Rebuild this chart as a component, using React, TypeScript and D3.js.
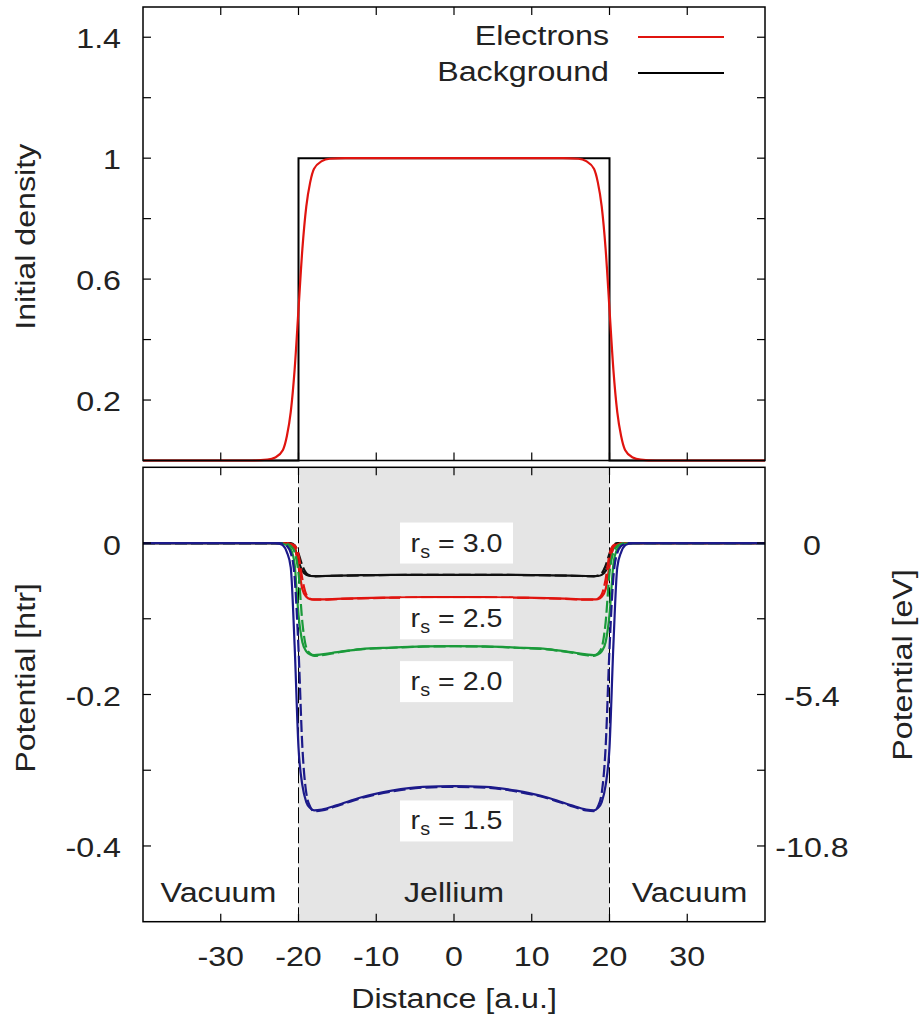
import React from "react";
import * as d3 from "d3";

// ---------- data ----------
// Top panel: initial density
const densX = [-40, -26, -24, -23, -22, -21.5, -21, -20.5, -20, -19.5, -19, -18.5, -18, -17, -16, -14, 0, 14, 16, 17, 18, 18.5, 19, 19.5, 20, 20.5, 21, 21.5, 22, 23, 24, 26, 40];
const electrons = [0, 0, 0.003, 0.01, 0.035, 0.08, 0.16, 0.3, 0.5, 0.7, 0.84, 0.92, 0.965, 0.99, 0.998, 1, 1, 1, 0.998, 0.99, 0.965, 0.92, 0.84, 0.7, 0.5, 0.3, 0.16, 0.08, 0.035, 0.01, 0.003, 0, 0];
const bgX = [-40, -20, -20, 20, 20, 40];
const background = [0, 0, 1, 1, 0, 0];

// Bottom panel: potentials (htr) on a common grid
const potX = [-40, -24, -23, -22.5, -22, -21.5, -21, -20.5, -20, -19.5, -19, -18.5, -18, -17, -15, -12, -8, -4, 0, 4, 8, 12, 15, 17, 18, 18.5, 19, 19.5, 20, 20.5, 21, 21.5, 22, 22.5, 23, 24, 40];

const rs15 = [0, 0, 0, -0.001, -0.003, -0.012, -0.032, -0.135, -0.27, -0.32, -0.342, -0.35, -0.353, -0.352, -0.346, -0.336, -0.327, -0.322, -0.321, -0.322, -0.327, -0.336, -0.346, -0.352, -0.353, -0.35, -0.342, -0.32, -0.27, -0.135, -0.032, -0.012, -0.003, -0.001, 0, 0, 0];
const rs15d = [0, 0, 0, 0, -0.001, -0.004, -0.013, -0.045, -0.14, -0.27, -0.33, -0.348, -0.354, -0.353, -0.347, -0.337, -0.328, -0.323, -0.322, -0.323, -0.328, -0.337, -0.347, -0.353, -0.354, -0.348, -0.33, -0.27, -0.14, -0.045, -0.013, -0.004, -0.001, 0, 0, 0, 0];
const rs20 = [0, 0, 0, 0, -0.001, -0.003, -0.008, -0.028, -0.095, -0.131, -0.143, -0.147, -0.148, -0.147, -0.144, -0.14, -0.138, -0.1365, -0.136, -0.1365, -0.138, -0.14, -0.144, -0.147, -0.148, -0.147, -0.143, -0.131, -0.095, -0.028, -0.008, -0.003, -0.001, 0, 0, 0, 0];
const rs20d = [0, 0, 0, 0, 0, -0.001, -0.004, -0.012, -0.04, -0.105, -0.138, -0.146, -0.149, -0.148, -0.1445, -0.1405, -0.1383, -0.1368, -0.1363, -0.1368, -0.1383, -0.1405, -0.1445, -0.148, -0.149, -0.146, -0.138, -0.105, -0.04, -0.012, -0.004, -0.001, 0, 0, 0, 0, 0];
const rs25 = [0, 0, 0, 0, 0, -0.0005, -0.002, -0.006, -0.031, -0.061, -0.071, -0.074, -0.0745, -0.0745, -0.0738, -0.0728, -0.072, -0.0715, -0.0713, -0.0715, -0.072, -0.0728, -0.0738, -0.0745, -0.0745, -0.074, -0.071, -0.061, -0.031, -0.006, -0.002, -0.0005, 0, 0, 0, 0, 0];
const rs25d = [0, 0, 0, 0, 0, 0, -0.001, -0.003, -0.015, -0.048, -0.068, -0.0735, -0.0748, -0.0748, -0.074, -0.073, -0.0722, -0.0717, -0.0715, -0.0717, -0.0722, -0.073, -0.074, -0.0748, -0.0748, -0.0735, -0.068, -0.048, -0.015, -0.003, -0.001, 0, 0, 0, 0, 0, 0];
const rs30 = [0, 0, 0, 0, 0, 0, -0.001, -0.006, -0.024, -0.037, -0.042, -0.0435, -0.0437, -0.0435, -0.043, -0.0425, -0.042, -0.042, -0.042, -0.042, -0.042, -0.0425, -0.043, -0.0435, -0.0437, -0.0435, -0.042, -0.037, -0.024, -0.006, -0.001, 0, 0, 0, 0, 0, 0];
const rs30d = [0, 0, 0, 0, 0, 0, 0, -0.003, -0.014, -0.03, -0.04, -0.043, -0.044, -0.0437, -0.0432, -0.0427, -0.0422, -0.0421, -0.042, -0.0421, -0.0422, -0.0427, -0.0432, -0.0437, -0.044, -0.043, -0.04, -0.03, -0.014, -0.003, 0, 0, 0, 0, 0, 0, 0];

const seriesNames = ["3.0", "2.5", "2.0", "1.5"];
const seriesColors = ["#111111", "#e0140f", "#1a9a3a", "#1c1a8a"];
const seriesSolid = [rs30, rs25, rs20, rs15];
const seriesDashed = [rs30d, rs25d, rs20d, rs15d];
const labelY = [0, -0.1, -0.183, -0.367];

const xTicks = [-30, -20, -10, 0, 10, 20, 30];
const topYTicks = [0.2, 0.4, 0.6, 0.8, 1.0, 1.2, 1.4];
const topYLabels = [0.2, 0.6, 1.0, 1.4];
const botYTicks = [0, -0.1, -0.2, -0.3, -0.4];
const botYLabels = [0, -0.2, -0.4];
const evTicks = [0, -2.7, -5.4, -8.1, -10.8];
const evLabels = [0, -5.4, -10.8];
const regions = [
  { name: "Vacuum", x: -30.3 },
  { name: "Jellium", x: 0 },
  { name: "Vacuum", x: 30.3 },
];

// ---------- layout ----------
const L = 143, R = 765;
const topT = 7, topB = 460.5;
const botT = 467.3, botB = 921.7;
const FONT = "'Liberation Sans', Arial, Helvetica, sans-serif";
const TXT = "#222";

const x = d3.scaleLinear().domain([-40, 40]).range([L, R]);
const yTop = d3.scaleLinear().domain([0, 1.5]).range([topB, topT]);
const yBot = d3.scaleLinear().domain([-0.5, 0.1]).range([botB, botT]);
const yEv = d3.scaleLinear().domain([-13.5, 2.7]).range([botB, botT]);

function T({ x: tx, y: ty, anchor = "middle", rot = 0, size = 28, sx = 1.15, children }: any) {
  return (
    <text
      transform={`translate(${tx},${ty}) rotate(${rot}) scale(${sx},1)`}
      textAnchor={anchor}
      fontSize={size}
      fontFamily={FONT}
      fill={TXT}
    >
      {children}
    </text>
  );
}

const fmt = (v: number) => {
  if (v === 0) return "0";
  if (Math.abs(v - 1) < 1e-9) return "1";
  return String(+v.toFixed(2));
};

export default function App() {
  const densLine = d3
    .line<number>()
    .x((_, i) => x(densX[i]))
    .y((d) => yTop(d))
    .curve(d3.curveMonotoneX);
  const bgLine = d3
    .line<number>()
    .x((_, i) => x(bgX[i]))
    .y((d) => yTop(d));
  const potLine = d3
    .line<number>()
    .x((_, i) => x(potX[i]))
    .y((d) => yBot(d))
    .curve(d3.curveMonotoneX);

  const tick = 8;

  return (
    <svg width={920} height={1024} style={{ position: "absolute", left: 0, top: 0 }}>
      <rect x={0} y={0} width={920} height={1024} fill="#fff" />

      {/* ---------- TOP PANEL ---------- */}
      <path d={bgLine(background) || ""} fill="none" stroke="#000" strokeWidth={2} />
      <path d={densLine(electrons) || ""} fill="none" stroke="#e0140f" strokeWidth={2.2} />

      {/* ticks */}
      {xTicks.map((t) => (
        <g key={"tx" + t}>
          <line x1={x(t)} x2={x(t)} y1={topT} y2={topT + tick} stroke="#000" strokeWidth={1.2} />
          <line x1={x(t)} x2={x(t)} y1={topB} y2={topB - tick} stroke="#000" strokeWidth={1.2} />
        </g>
      ))}
      {topYTicks.map((t) => (
        <g key={"ty" + t}>
          <line x1={L} x2={L + tick} y1={yTop(t)} y2={yTop(t)} stroke="#000" strokeWidth={1.2} />
          <line x1={R} x2={R - tick} y1={yTop(t)} y2={yTop(t)} stroke="#000" strokeWidth={1.2} />
        </g>
      ))}
      {topYLabels.map((t) => (
        <T key={"tyl" + t} x={121} y={yTop(t) + 11} anchor="end">
          {fmt(t)}
        </T>
      ))}
      <rect x={L} y={topT} width={R - L} height={topB - topT} fill="none" stroke="#000" strokeWidth={1.5} />
      <T x={35} y={(topT + topB) / 2 + 3} rot={-90}>
        Initial density
      </T>

      {/* legend */}
      <T x={609} y={45} anchor="end">Electrons</T>
      <line x1={638} x2={724} y1={37} y2={37} stroke="#e0140f" strokeWidth={2.2} />
      <T x={609} y={81} anchor="end">Background</T>
      <line x1={638} x2={724} y1={73} y2={73} stroke="#000" strokeWidth={2.2} />

      {/* ---------- BOTTOM PANEL ---------- */}
      <rect x={x(-20)} y={botT} width={x(20) - x(-20)} height={botB - botT} fill="#e5e5e5" />
      {[-20, 20].map((v) => (
        <line key={"dv" + v} x1={x(v)} x2={x(v)} y1={botT} y2={botB} stroke="#000" strokeWidth={1} strokeDasharray="16,4" />
      ))}

      {seriesSolid.map((s, i) => (
        <g key={"s" + i}>
          <path d={potLine(s) || ""} fill="none" stroke={seriesColors[i]} strokeWidth={2.2} />
          <path d={potLine(seriesDashed[i]) || ""} fill="none" stroke={seriesColors[i]} strokeWidth={2.2} strokeDasharray="12,4" />
        </g>
      ))}

      {/* rs labels */}
      {seriesNames.map((n, i) => {
        const cx = x(0) + 2.5;
        const cy = yBot(labelY[i]);
        return (
          <g key={"lab" + i}>
            <rect x={cx - 56.5} y={cy - 20.5} width={113} height={41} fill="#fff" />
            <text
              transform={`translate(${cx},${cy + 8.5}) scale(1.1,1)`}
              textAnchor="middle"
              fontSize={26}
              fontFamily={FONT}
              fill={TXT}
            >
              r
              <tspan fontSize={18} dy={6}>s</tspan>
              <tspan dy={-6}>{" = " + n}</tspan>
            </text>
          </g>
        );
      })}

      {/* ticks */}
      {xTicks.map((t) => (
        <g key={"bx" + t}>
          <line x1={x(t)} x2={x(t)} y1={botT} y2={botT + tick} stroke="#000" strokeWidth={1.2} />
          <line x1={x(t)} x2={x(t)} y1={botB} y2={botB - tick} stroke="#000" strokeWidth={1.2} />
        </g>
      ))}
      {botYTicks.map((t) => (
        <line key={"by" + t} x1={L} x2={L + tick} y1={yBot(t)} y2={yBot(t)} stroke="#000" strokeWidth={1.2} />
      ))}
      {evTicks.map((t) => (
        <line key={"ev" + t} x1={R} x2={R - tick} y1={yEv(t)} y2={yEv(t)} stroke="#000" strokeWidth={1.2} />
      ))}
      <rect x={L} y={botT} width={R - L} height={botB - botT} fill="none" stroke="#000" strokeWidth={1.5} />

      {botYLabels.map((t) => (
        <T key={"byl" + t} x={121} y={yBot(t) + 11.5} anchor="end">
          {fmt(t)}
        </T>
      ))}
      {evLabels.map((t) => (
        <T key={"evl" + t} x={812} y={yEv(t) + 11.5} anchor="middle">
          {fmt(t)}
        </T>
      ))}
      {xTicks.map((t) => (
        <T key={"bxl" + t} x={x(t)} y={966}>
          {fmt(t)}
        </T>
      ))}
      {regions.map((r, i) => (
        <T key={"reg" + i} x={x(r.x)} y={901.5}>
          {r.name}
        </T>
      ))}

      <T x={35} y={678} rot={-90}>Potential [htr]</T>
      <T x={912} y={665} rot={-90}>Potential [eV]</T>
      <T x={x(0)} y={1008}>Distance [a.u.]</T>
    </svg>
  );
}
